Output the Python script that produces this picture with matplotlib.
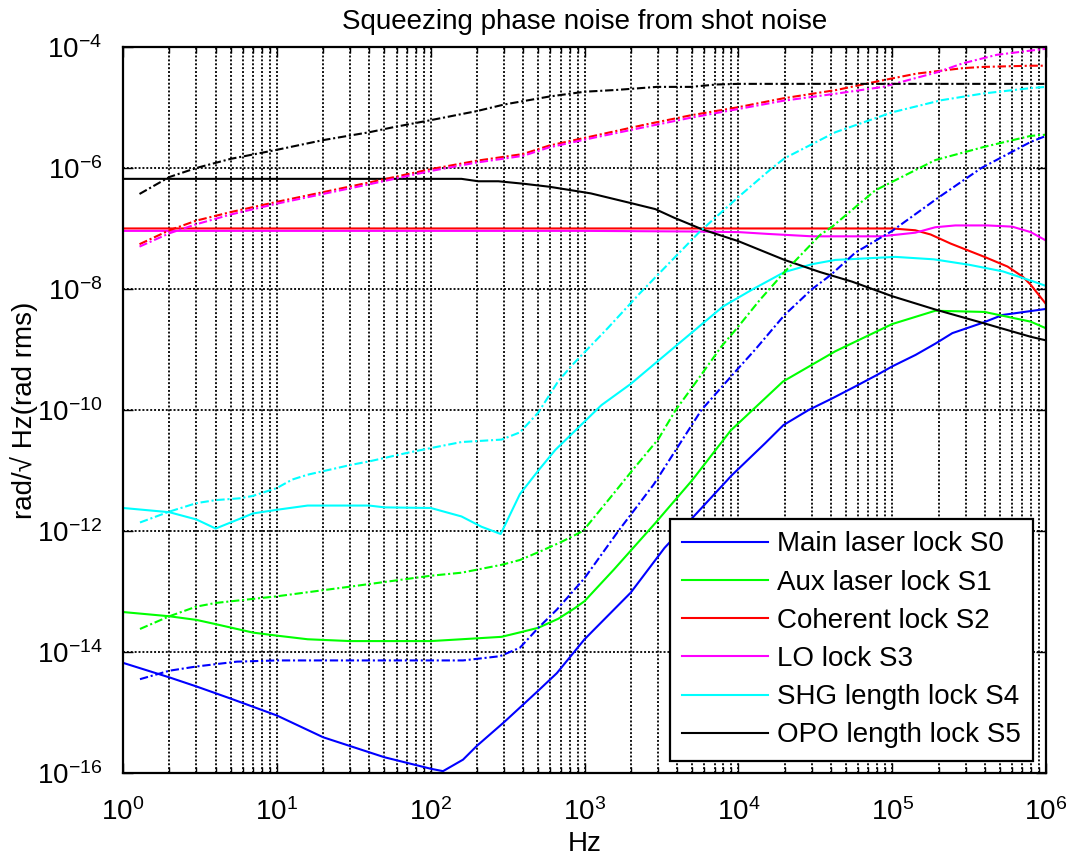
import numpy as np
import matplotlib
matplotlib.use("Agg")
import matplotlib.pyplot as plt
from matplotlib.ticker import FixedLocator, NullLocator

plt.rcParams['font.family'] = ['Liberation Sans', 'DejaVu Sans']
plt.rcParams['axes.unicode_minus'] = False
plt.rcParams['lines.scale_dashes'] = False

# values, stored as log10(Hz) and log10(rad/rtHz)
s0_f = [0, 0.301, 0.477, 0.699, 1.0, 1.301, 1.699, 2.0, 2.08, 2.21, 2.301, 2.477, 2.699, 2.82, 3.0,
        3.3, 3.52, 3.728, 3.957, 4.174, 4.293, 4.457, 4.609, 4.761, 4.902, 5.0, 5.152, 5.283, 5.391,
        5.587, 5.717, 6.0]
s0_v = [-14.18, -14.42, -14.57, -14.77, -15.05, -15.41, -15.74, -15.93, -15.97, -15.78, -15.55, -15.16,
        -14.64, -14.35, -13.79, -13.02, -12.28, -11.71, -11.08, -10.55, -10.25, -10.0, -9.81, -9.61,
        -9.42, -9.28, -9.09, -8.90, -8.73, -8.56, -8.43, -8.33]
s0d_f = [0.11, 0.301, 0.477, 0.74, 1.0, 1.5, 2.0, 2.21, 2.45, 2.58, 2.70, 2.82, 3.0, 3.22, 3.45,
         3.76, 4.0, 4.11, 4.30, 4.48, 4.6, 4.76, 5.0, 5.3, 5.58, 5.9, 6.0]
s0d_v = [-14.45, -14.31, -14.24, -14.16, -14.14, -14.14, -14.14, -14.14, -14.07, -13.93, -13.60,
         -13.30, -12.78, -12.0, -11.23, -10.0, -9.31, -9.0, -8.43, -8.0, -7.77, -7.40, -7.04, -6.49,
         -6.0, -5.57, -5.47]

s1_f = [0, 0.301, 0.477, 0.602, 0.845, 1.0, 1.2, 1.477, 2.0, 2.2, 2.46, 2.59, 2.70, 2.83, 2.94,
        3.0, 3.19, 3.46, 3.70, 3.95, 4.29, 4.63, 5.0, 5.28, 5.6, 5.9, 6.0]
s1_v = [-13.34, -13.41, -13.47, -13.54, -13.68, -13.73, -13.79, -13.82, -13.82, -13.79, -13.75,
        -13.67, -13.60, -13.45, -13.27, -13.16, -12.64, -11.87, -11.16, -10.34, -9.53, -9.03, -8.58,
        -8.36, -8.38, -8.54, -8.65]
s1d_f = [0.11, 0.301, 0.477, 0.602, 1.0, 1.477, 2.0, 2.2, 2.46, 2.58, 2.71, 2.85, 2.99, 3.18, 3.31,
         3.48, 3.59, 3.73, 3.89, 4.0, 4.14, 4.30, 4.53, 4.61, 4.89, 5.28, 5.6, 5.9, 6.0]
s1d_v = [-13.62, -13.41, -13.25, -13.19, -13.08, -12.92, -12.74, -12.69, -12.56, -12.48, -12.34,
         -12.18, -12.0, -11.41, -11.0, -10.48, -10.01, -9.52, -8.95, -8.62, -8.18, -7.72, -7.11,
         -6.97, -6.37, -5.87, -5.65, -5.47, -5.45]

s2_f = [0, 5.0, 5.15, 5.25, 5.38, 5.46, 5.6, 5.75, 5.85, 5.9, 6.0]
s2_v = [-7.0, -7.0, -7.03, -7.10, -7.25, -7.33, -7.47, -7.63, -7.80, -7.93, -8.25]
s2d_f = [0.107, 0.301, 0.477, 0.699, 1.0, 1.3, 1.6, 2.0, 2.3, 2.6, 2.77, 3.06, 3.4, 3.69, 3.99,
         4.29, 4.64, 4.94, 5.16, 5.46, 5.59, 5.9, 6.0]
s2d_v = [-7.26, -7.03, -6.87, -6.73, -6.56, -6.40, -6.24, -6.02, -5.88, -5.77, -5.63, -5.47, -5.28,
         -5.13, -5.0, -4.85, -4.71, -4.55, -4.44, -4.35, -4.33, -4.31, -4.31]

s3_f = [0, 3.0, 3.7, 4.0, 4.19, 4.48, 4.93, 5.15, 5.28, 5.41, 5.62, 5.78, 5.9, 6.0]
s3_v = [-7.04, -7.04, -7.05, -7.06, -7.09, -7.13, -7.13, -7.07, -6.98, -6.95, -6.95, -6.97, -7.06, -7.2]
s3d_f = [0.107, 0.301, 0.477, 0.699, 1.0, 1.3, 1.6, 2.0, 2.3, 2.6, 2.77, 3.06, 3.4, 3.69, 3.99,
         4.29, 4.64, 4.94, 5.29, 5.46, 5.68, 5.9, 6.0]
s3d_v = [-7.30, -7.08, -6.93, -6.77, -6.59, -6.43, -6.27, -6.05, -5.91, -5.80, -5.66, -5.50, -5.32,
         -5.17, -5.03, -4.89, -4.77, -4.66, -4.42, -4.27, -4.13, -4.06, -4.03]

s4_f = [0, 0.301, 0.477, 0.602, 0.845, 1.0, 1.2, 1.6, 1.7, 2.0, 2.2, 2.33, 2.455, 2.58, 2.70, 2.81,
        2.94, 3.11, 3.30, 3.59, 3.90, 4.09, 4.30, 4.48, 4.63, 5.02, 5.27, 5.5, 5.72, 5.91, 6.0]
s4_v = [-11.62, -11.69, -11.81, -11.96, -11.71, -11.65, -11.58, -11.58, -11.61, -11.62, -11.76,
        -11.93, -12.05, -11.39, -11.0, -10.66, -10.34, -9.92, -9.57, -8.95, -8.29, -8.01, -7.72,
        -7.59, -7.52, -7.47, -7.51, -7.60, -7.71, -7.87, -7.95]
s4d_f = [0.11, 0.301, 0.477, 0.602, 0.76, 0.845, 1.0, 1.1, 1.2, 1.477, 1.6, 1.845, 2.0, 2.2, 2.46,
         2.58, 2.70, 2.83, 2.93, 3.15, 3.36, 3.75, 4.0, 4.22, 4.30, 4.53, 4.63, 5.0, 5.32, 5.59, 5.9, 6.0]
s4d_v = [-11.86, -11.68, -11.54, -11.49, -11.46, -11.42, -11.29, -11.15, -11.07, -10.91, -10.85,
         -10.71, -10.63, -10.53, -10.49, -10.37, -10.04, -9.52, -9.23, -8.65, -8.07, -7.05, -6.48,
         -6.0, -5.84, -5.54, -5.41, -5.08, -4.88, -4.77, -4.68, -4.66]

s5_f = [0, 2.2, 2.31, 2.44, 2.6, 2.77, 3.04, 3.3, 3.46, 3.58, 3.77, 4.0, 4.3, 4.53, 4.74, 5.0, 5.28,
        5.6, 5.9, 6.0]
s5_v = [-6.18, -6.18, -6.22, -6.22, -6.26, -6.31, -6.42, -6.58, -6.68, -6.82, -7.02, -7.21, -7.52,
        -7.72, -7.88, -8.12, -8.34, -8.57, -8.79, -8.85]
s5d_f = [0.107, 0.301, 0.477, 0.699, 1.0, 1.3, 1.6, 1.75, 2.0, 2.3, 2.48, 2.77, 3.0, 3.21, 3.47,
         3.69, 3.86, 4.0, 5.0, 6.0]
s5d_v = [-6.43, -6.15, -6.0, -5.85, -5.70, -5.54, -5.41, -5.33, -5.21, -5.06, -4.95, -4.82, -4.74,
         -4.71, -4.66, -4.66, -4.62, -4.61, -4.61, -4.61]

labels = ['Main laser lock S0', 'Aux laser lock S1', 'Coherent lock S2', 'LO lock S3',
          'SHG length lock S4', 'OPO length lock S5']
colors = ['#0000ff', '#00ff00', '#ff0000', '#ff00ff', '#00ffff', '#000000']
solid = [(s0_f, s0_v), (s1_f, s1_v), (s2_f, s2_v), (s3_f, s3_v), (s4_f, s4_v), (s5_f, s5_v)]
dashed = [(s0d_f, s0d_v), (s1d_f, s1d_v), (s2d_f, s2d_v), (s3d_f, s3d_v), (s4d_f, s4d_v), (s5d_f, s5d_v)]

xticks = [1, 1e1, 1e2, 1e3, 1e4, 1e5, 1e6]
yticks = [1e-16, 1e-14, 1e-12, 1e-10, 1e-8, 1e-6, 1e-4]

fig = plt.figure(figsize=(10.7, 8.6), dpi=100)
ax = fig.add_axes([0.1150, 0.1012, 0.8626, 0.8442])

for (f, v), c, lab in zip(solid, colors, labels):
    ax.loglog(10.0 ** np.array(f), 10.0 ** np.array(v), color=c, lw=1.5, label=lab)
for (f, v), c in zip(dashed, colors):
    ax.loglog(10.0 ** np.array(f), 10.0 ** np.array(v), color=c, lw=1.5, ls=(0, (6, 2, 1.5, 2)))

ax.set_xlim(1, 1e6)
ax.set_ylim(1e-16, 1e-4)
ax.xaxis.set_major_locator(FixedLocator(xticks))
ax.xaxis.set_minor_locator(FixedLocator([m * d for d in xticks[:-1] for m in range(2, 10)]))
ax.yaxis.set_major_locator(FixedLocator(yticks))
ax.yaxis.set_minor_locator(NullLocator())

# MATLAB-style heavy dotted grid
ax.grid(True, which='major', axis='both', color='k', ls=(0, (1.4, 1.4)), lw=1.3)
ax.grid(True, which='minor', axis='x', color='k', ls=(0, (1.4, 1.4)), lw=1.3)
ax.tick_params(which='both', direction='in', top=True, right=True, labelsize=20)
ax.tick_params(axis='x', pad=18)
ax.tick_params(axis='y', pad=15)
ax.tick_params(which='major', length=7, width=1)
ax.tick_params(which='minor', length=4, width=1)
for sp in ax.spines.values():
    sp.set_linewidth(1.6)

ax.set_title('Squeezing phase noise from shot noise', fontsize=20, pad=13)
ax.set_xlabel('Hz', fontsize=20, labelpad=4)
ax.set_ylabel('rad/\u221a Hz(rad rms)', fontsize=20)
ax.yaxis.set_label_coords(-0.092, 0.5)

leg = ax.legend(loc='lower right', bbox_to_anchor=(0.986, 0.0165), borderaxespad=0,
                fontsize=20, fancybox=False, framealpha=1, edgecolor='k',
                handlelength=3.1, handletextpad=0.3, labelspacing=0.44, borderpad=0.45)
leg.get_frame().set_linewidth(1.6)

fig.savefig('out.png', dpi=100)
